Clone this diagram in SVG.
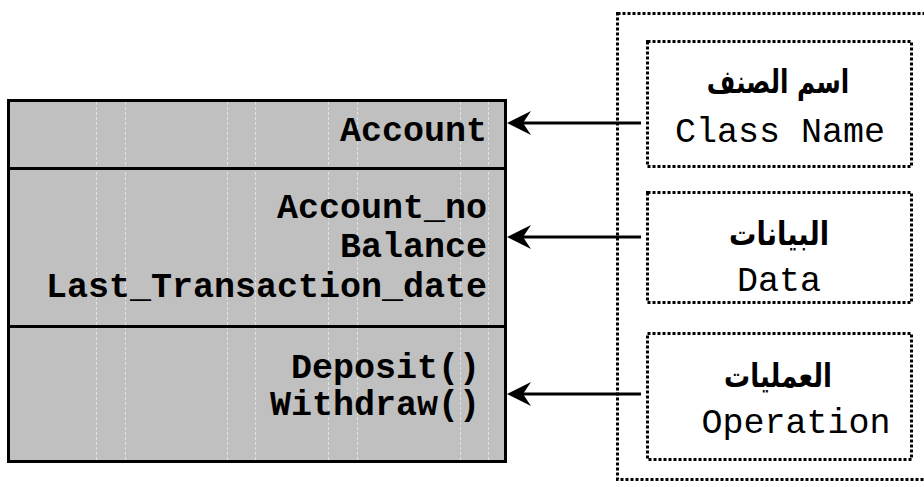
<svg xmlns="http://www.w3.org/2000/svg" width="924" height="487" viewBox="0 0 924 487">
<style>
.cls{fill:#c0c0c0;stroke:#000;stroke-width:3}
.div{stroke:#000;stroke-width:3}
.grid{stroke:#e2e2e2;stroke-width:1;stroke-dasharray:3 2}
.mono{font-family:"Courier New","Liberation Mono",monospace;font-weight:bold;font-size:35px;fill:#000}
.lab{font-family:"Courier New","Liberation Mono",monospace;font-size:35px;fill:#000;text-anchor:middle}
.ar{font-family:"DejaVu Sans","Noto Sans",sans-serif;font-weight:bold;font-size:26px;fill:#000;text-anchor:middle}
.dot{fill:none;stroke:#000;stroke-width:3;stroke-dasharray:3 2}
.conn{fill:none;stroke:#000;stroke-width:3}
</style>
<defs>
<marker id="ah" markerUnits="userSpaceOnUse" markerWidth="24" markerHeight="24" refX="11" refY="12" orient="auto" viewBox="0 0 24 24">
<path d="M0,0 L24,12 L0,24 L8,12 Z" fill="#000"/>
</marker>
</defs>
<g id="class-box">
<rect class="cls" x="8.5" y="100.5" width="497" height="361"/>
<g class="grid">
<line x1="96.5" y1="102" x2="96.5" y2="460"/><line x1="125.5" y1="102" x2="125.5" y2="460"/>
<line x1="227.5" y1="102" x2="227.5" y2="460"/><line x1="255.5" y1="102" x2="255.5" y2="460"/>
<line x1="328.5" y1="102" x2="328.5" y2="460"/><line x1="357.5" y1="102" x2="357.5" y2="460"/>
<line x1="460.5" y1="102" x2="460.5" y2="460"/><line x1="488.5" y1="102" x2="488.5" y2="460"/>
</g>
<line class="div" x1="8" y1="168.5" x2="506" y2="168.5"/>
<line class="div" x1="8" y1="326.5" x2="506" y2="326.5"/>
<text class="mono" x="487" y="141" text-anchor="end">Account</text>
<text class="mono" x="487" y="218" text-anchor="end">Account_no</text>
<text class="mono" x="487" y="257" text-anchor="end">Balance</text>
<text class="mono" x="487" y="297" text-anchor="end">Last_Transaction_date</text>
<text class="mono" x="480" y="378" text-anchor="end">Deposit()</text>
<text class="mono" x="480" y="415" text-anchor="end">Withdraw()</text>
</g>
<g id="legend-frame">
<rect class="dot" x="617.5" y="13.5" width="400" height="466"/>
</g>
<g id="class-name">
<rect class="dot" x="647.5" y="41.5" width="264" height="125"/>
<text class="ar" transform="translate(778,93) scale(0.95,1.25)">اسم الصنف</text>
<text class="lab" x="780" y="142">Class Name</text>
</g>
<g id="data">
<rect class="dot" x="647.5" y="192.5" width="264" height="110"/>
<text class="ar" transform="translate(779,245) scale(1.05,1.25)">البيانات</text>
<text class="lab" x="779" y="291">Data</text>
</g>
<g id="operation">
<rect class="dot" x="647.5" y="333.5" width="264" height="126"/>
<text class="ar" transform="translate(778,387) scale(1,1.25)">العمليات</text>
<text class="lab" x="796" y="433">Operation</text>
</g>
<g id="connectors">
<line class="conn" x1="641" y1="123" x2="520" y2="123" marker-end="url(#ah)"/>
<line class="conn" x1="641" y1="237" x2="520" y2="237" marker-end="url(#ah)"/>
<line class="conn" x1="641" y1="394" x2="520" y2="394" marker-end="url(#ah)"/>
</g>
</svg>
